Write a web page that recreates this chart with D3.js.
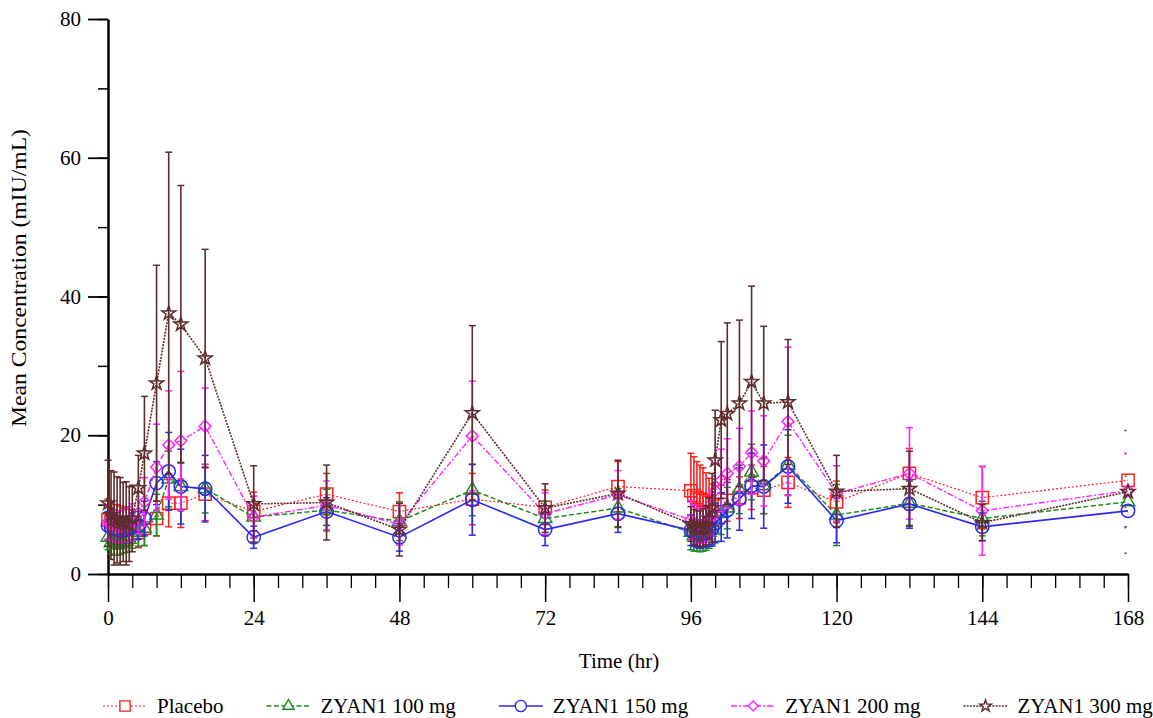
<!DOCTYPE html>
<html>
<head>
<meta charset="utf-8">
<script src="https://cdn.jsdelivr.net/npm/d3@7"></script>
<style>
  body { margin: 0; background: #fff; }
  svg { display: block; }
  text { font-family: "Liberation Serif", "Times New Roman", serif; fill: #000; }
</style>
</head>
<body>
<svg id="chart" width="1153" height="718"></svg>
<script>
// sampling times (hr)
var times = [0, 0.5, 1, 1.5, 2, 2.5, 3, 3.5, 4, 5, 6, 8, 10, 12, 16,
    24, 36, 48, 60, 72, 84,
    96, 96.5, 97, 97.5, 98, 98.5, 99, 99.5, 100, 101, 102, 104, 106, 108, 112,
    120, 132, 144, 168];

var placebo_mean = [7.8, 7.5, 7.3, 7.4, 7.2, 7.0, 7.2, 6.9, 6.8, 6.0, 6.6, 8.0, 10.2, 10.2, 11.5,
    9.0, 11.5, 9.0, 10.8, 9.6, 12.6,
    12.0, 11.3, 11.0, 10.8, 10.6, 10.5, 10.3, 10.0, 9.8, 10.0, 10.6, 11.0, 12.5, 12.1, 13.2,
    10.4, 14.5, 11.0, 13.5];
var placebo_sd = [3.0, 2.8, 2.7, 2.6, 2.6, 2.5, 2.5, 2.4, 2.4, 2.2, 2.5, 2.5, 3.4, 3.5, 3.8,
    2.8, 3.0, 2.7, 3.7, 2.5, 3.6,
    5.4, 5.6, 5.2, 4.9, 4.7, 4.1, 3.5, 3.0, 2.8, 2.8, 3.0, 3.0, 3.2, 3.4, 3.6,
    3.0, 3.6, 4.5, 3.9];

var dose100_mean = [5.3, 4.5, 4.2, 4.2, 4.3, 4.5, 4.7, 5.0, 5.5, 6.0, 6.6, 8.5, 13.7, 12.6, 12.3,
    8.2, 9.2, 7.6, 12.1, 8.0, 9.5,
    6.0, 5.5, 5.3, 5.2, 5.3, 5.6, 6.0, 6.5, 7.5, 8.7, 9.5, 12.2, 14.7, 12.7, 15.7,
    8.5, 10.2, 8.0, 10.4];
var dose100_sd = [1.8, 1.6, 1.5, 1.5, 1.5, 1.5, 1.6, 1.7, 1.8, 2.0, 2.5, 3.0, 4.0, 3.5, 3.5,
    3.0, 3.0, 2.8, 3.7, 2.5, 2.8,
    2.5, 2.2, 2.0, 2.0, 2.0, 2.2, 2.3, 2.5, 2.8, 3.0, 3.0, 3.5, 4.0, 4.0, 4.3,
    4.4, 3.2, 2.5, 3.7];

var dose150_mean = [7.0, 6.8, 6.5, 6.3, 6.2, 6.3, 6.4, 6.5, 6.8, 7.0, 8.0, 13.1, 14.8, 12.6, 12.3,
    5.3, 9.0, 5.3, 10.7, 6.4, 8.7,
    6.3, 6.0, 5.8, 5.7, 5.8, 6.0, 6.2, 6.5, 7.3, 8.2, 9.2, 10.8, 12.7, 12.6, 15.5,
    7.7, 10.1, 6.8, 9.1];
var dose150_sd = [2.0, 1.9, 1.8, 1.8, 1.8, 1.8, 1.8, 1.9, 2.0, 2.0, 2.5, 3.1, 5.6, 5.4, 4.8,
    1.6, 2.0, 2.0, 5.1, 2.3, 2.7,
    2.2, 2.0, 2.0, 2.0, 2.0, 2.1, 2.2, 2.3, 2.8, 3.5, 4.0, 4.5, 4.7, 6.0, 5.3,
    3.2, 3.5, 2.0, 2.3];

var dose200_mean = [7.5, 7.2, 7.0, 6.8, 6.8, 6.9, 7.0, 7.2, 7.5, 8.8, 10.4, 15.4, 18.6, 19.2, 21.3,
    8.2, 9.9, 7.2, 19.9, 8.7, 11.4,
    7.8, 7.3, 7.0, 6.9, 7.0, 7.3, 7.7, 8.5, 12.0, 13.5, 14.5, 15.5, 17.5, 16.3, 22.0,
    11.6, 14.5, 9.1, 12.0];
var dose200_sd = [2.5, 2.4, 2.3, 2.3, 2.3, 2.3, 2.4, 2.5, 2.6, 3.0, 3.5, 6.2, 7.8, 10.0, 5.5,
    3.0, 3.5, 3.0, 7.9, 3.0, 3.5,
    2.8, 2.6, 2.5, 2.5, 2.5, 2.6, 2.8, 3.0, 4.0, 4.5, 5.0, 5.5, 6.0, 6.5, 10.7,
    4.0, 6.6, 6.4, 5.3];

var dose300_mean = [10.2, 8.5, 8.0, 7.8, 7.6, 7.5, 7.3, 7.2, 8.0, 12.4, 17.4, 27.5, 37.6, 36.0, 31.1,
    10.1, 10.3, 6.4, 23.2, 9.5, 11.6,
    7.2, 6.8, 6.6, 6.5, 6.7, 7.0, 8.0, 9.5, 16.4, 22.2, 23.1, 24.6, 27.7, 24.6, 24.8,
    11.9, 12.3, 7.4, 11.85];
var dose300_sd = [6.2, 6.4, 6.7, 6.2, 6.3, 5.7, 6.0, 5.4, 4.8, 4.7, 8.2, 17.0, 23.2, 20.0, 15.7,
    5.5, 5.4, 3.8, 12.6, 3.5, 4.8,
    2.5, 2.5, 2.5, 2.6, 2.7, 2.8, 3.0, 5.0, 7.2, 11.3, 13.1, 12.0, 13.8, 11.1, 9.0,
    5.2, 5.4, 2.6, 8.85];

var group_names = ['Placebo', 'ZYAN1 100 mg', 'ZYAN1 150 mg', 'ZYAN1 200 mg', 'ZYAN1 300 mg'];

var x_ticks = [0, 24, 48, 72, 96, 120, 144, 168];
var y_ticks = [0, 20, 40, 60, 80];

var series = [
    {name: group_names[0], mean: placebo_mean, sd: placebo_sd, color: '#ff2020', dash: '2,2', width: 1.2, symbol: d3.symbolSquare, size: 150},
    {name: group_names[1], mean: dose100_mean, sd: dose100_sd, color: '#1e8c1e', dash: '5,2.5', width: 1.5, symbol: d3.symbolTriangle, size: 80},
    {name: group_names[2], mean: dose150_mean, sd: dose150_sd, color: '#2a2af0', dash: null, width: 1.6, symbol: d3.symbolCircle, size: 140},
    {name: group_names[3], mean: dose200_mean, sd: dose200_sd, color: '#ff22ff', dash: '6,2,2,2', width: 1.4, symbol: d3.symbolDiamond2 || d3.symbolDiamond, size: 90},
    {name: group_names[4], mean: dose300_mean, sd: dose300_sd, color: '#5e2c2c', dash: '2,1.2', width: 1.6, symbol: d3.symbolStar, size: 60}
];

var svg = d3.select('#chart');
var xs = d3.scaleLinear().domain([0, 168]).range([108, 1128]);
var ys = d3.scaleLinear().domain([0, 80]).range([574, 19]);

svg.append('clipPath').attr('id', 'errclip')
    .append('rect')
    .attr('x', 0).attr('y', 0)
    .attr('width', xs(168) - 1.5).attr('height', 718);

// x axis: minor ticks every 4 h, major every 24 h
svg.append('g')
    .attr('transform', 'translate(0,' + ys(0) + ')')
    .call(d3.axisBottom(xs).tickValues(d3.range(0, 169, 4)).tickSize(14).tickFormat(''))
    .call(function (g) { g.select('.domain').remove(); })
    .selectAll('line').attr('stroke', '#000').attr('stroke-width', 1.3);
var xaxis = svg.append('g')
    .attr('transform', 'translate(0,' + ys(0) + ')')
    .call(d3.axisBottom(xs).tickValues(x_ticks).tickSize(28).tickSizeOuter(0).tickPadding(8));
xaxis.select('.domain').attr('stroke', '#000').attr('stroke-width', 2.5);
xaxis.selectAll('line').attr('stroke', '#000').attr('stroke-width', 1.5);
xaxis.selectAll('text').attr('font-size', 21).attr('font-family', '"Liberation Serif", serif');

// y axis: minor every 10, major every 20
svg.append('g')
    .attr('transform', 'translate(' + xs(0) + ',0)')
    .call(d3.axisLeft(ys).tickValues(d3.range(0, 81, 10)).tickSize(10).tickFormat(''))
    .call(function (g) { g.select('.domain').remove(); })
    .selectAll('line').attr('stroke', '#000').attr('stroke-width', 1.5);
var yaxis = svg.append('g')
    .attr('transform', 'translate(' + xs(0) + ',0)')
    .call(d3.axisLeft(ys).tickValues(y_ticks).tickSize(20).tickSizeOuter(0).tickPadding(7));
yaxis.select('.domain').attr('stroke', '#000').attr('stroke-width', 2.5);
yaxis.selectAll('line').attr('stroke', '#000').attr('stroke-width', 1.8);
yaxis.selectAll('text').attr('font-size', 21).attr('font-family', '"Liberation Serif", serif');

svg.append('text')
    .attr('x', 619).attr('y', 668)
    .attr('text-anchor', 'middle')
    .attr('font-size', 21)
    .text('Time (hr)');

svg.append('text')
    .attr('transform', 'translate(26,278) rotate(-90)')
    .attr('text-anchor', 'middle')
    .attr('font-size', 22)
    .attr('textLength', 298)
    .attr('lengthAdjust', 'spacingAndGlyphs')
    .text('Mean Concentration (mIU/mL)');

var line = d3.line()
    .x(function (d) { return xs(d.t); })
    .y(function (d) { return ys(d.v); });

series.forEach(function (s) {
    var pts = times.map(function (t, i) { return {t: t, v: s.mean[i], sd: s.sd[i]}; });
    var g = svg.append('g');

    // error bars
    var eb = g.append('g').attr('clip-path', 'url(#errclip)');
    eb.selectAll('line.stem').data(pts).enter().append('line')
        .attr('x1', function (d) { return xs(d.t); })
        .attr('x2', function (d) { return xs(d.t); })
        .attr('y1', function (d) { return ys(Math.max(0, d.v - d.sd)); })
        .attr('y2', function (d) { return ys(d.v + d.sd); })
        .attr('stroke', s.color)
        .attr('stroke-width', 1.6);
    [-1, 1].forEach(function (sign) {
        eb.selectAll(null).data(pts).enter().append('line')
            .attr('x1', function (d) { return xs(d.t) - 3.5; })
            .attr('x2', function (d) { return xs(d.t) + 3.5; })
            .attr('y1', function (d) { return ys(d.v + sign * d.sd); })
            .attr('y2', function (d) { return ys(d.v + sign * d.sd); })
            .attr('stroke', s.color)
            .attr('stroke-width', 1.5);
    });

    g.append('path')
        .datum(pts)
        .attr('d', line)
        .attr('fill', 'none')
        .attr('stroke', s.color)
        .attr('stroke-width', s.width)
        .attr('stroke-dasharray', s.dash);

    g.selectAll('path.mark').data(pts).enter().append('path')
        .attr('transform', function (d) { return 'translate(' + xs(d.t) + ',' + ys(d.v) + ')'; })
        .attr('d', d3.symbol().type(s.symbol).size(s.size))
        .attr('fill', 'none')
        .attr('stroke', s.color)
        .attr('stroke-width', 1.5);
});

// legend
var legend = svg.append('g').attr('transform', 'translate(0,706)');
var lx = 103;
series.forEach(function (s) {
    var item = legend.append('g').attr('transform', 'translate(' + lx + ',0)');
    item.append('line')
        .attr('x1', 0).attr('x2', 44).attr('y1', 0).attr('y2', 0)
        .attr('stroke', s.color)
        .attr('stroke-width', s.width)
        .attr('stroke-dasharray', s.dash);
    item.append('path')
        .attr('transform', 'translate(22,0)')
        .attr('d', d3.symbol().type(s.symbol).size(s.size * 0.7))
        .attr('fill', '#fff')
        .attr('stroke', s.color)
        .attr('stroke-width', 1.4);
    var t = item.append('text')
        .attr('x', 54).attr('y', 0).attr('dy', '0.35em')
        .attr('font-size', 21)
        .text(s.name);
    lx += 54 + t.node().getComputedTextLength() + 43;
});
</script>
</body>
</html>
